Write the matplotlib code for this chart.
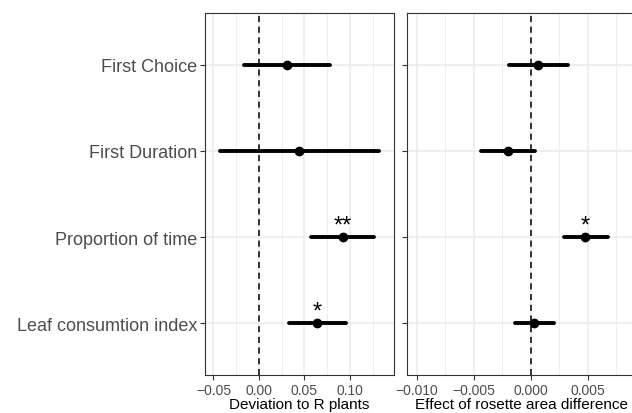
import numpy as np
import matplotlib.pyplot as plt
from matplotlib.ticker import MultipleLocator

plt.rcParams['font.family'] = ['Liberation Sans', 'DejaVu Sans']

# Data
labels = ['First Choice', 'First Duration', 'Proportion of time', 'Leaf consumtion index']

dev_est = [0.031, 0.044, 0.092, 0.064]
dev_lo = [-0.016, -0.043, 0.057, 0.033]
dev_hi = [0.078, 0.132, 0.126, 0.096]
dev_stars = ['', '', '**', '*']
dev_ticks = [-0.05, 0.0, 0.05, 0.10]
dev_ticklabels = ['−0.05', '0.00', '0.05', '0.10']

ros_est = [0.0006, -0.0020, 0.0048, 0.00025]
ros_lo = [-0.0019, -0.0044, 0.0029, -0.0014]
ros_hi = [0.0033, 0.0004, 0.0068, 0.0020]
ros_stars = ['', '', '*', '']
ros_ticks = [-0.010, -0.005, 0.0, 0.005]
ros_ticklabels = ['−0.010', '−0.005', '0.000', '0.005']

grid_col = '#EBEBEB'
txt_col = '#4D4D4D'

fig = plt.figure(figsize=(6.32, 4.14), dpi=100)
ax1 = fig.add_axes([205/632, 38/414, 189/632, 362/414])
ax2 = fig.add_axes([407/632, 38/414, 229/632, 362/414])

ypos = np.arange(1, len(labels) + 1)


def panel(ax, est, lo, hi, stars, xlim, minor, ticks, ticklabels, xlabel):
    ax.set_xlim(xlim)
    ax.set_ylim(4.6, 0.4)
    ax.set_xticks(ticks)
    ax.set_xticklabels(ticklabels)
    ax.xaxis.set_minor_locator(MultipleLocator(minor))
    ax.set_yticks(ypos)
    ax.grid(True, which='major', color=grid_col, lw=1.1, zorder=0)
    ax.grid(True, which='minor', axis='x', color=grid_col, lw=0.6, zorder=0)
    ax.set_axisbelow(True)
    ax.axvline(0, color='black', ls=(0, (4, 3)), lw=1.1, zorder=2)
    ax.hlines(ypos, lo, hi, color='black', lw=2.8, capstyle='round', zorder=3)
    ax.plot(est, ypos, 'o', color='black', ms=6, zorder=4)
    for x, y, s in zip(est, ypos, stars):
        if s:
            ax.text(x, y - 0.07, s, ha='center', va='baseline', fontsize=17, color='black')
    for sp in ax.spines.values():
        sp.set_color('#333333')
        sp.set_linewidth(0.8)
    ax.tick_params(axis='both', which='major', length=3.5, color='#333333', width=0.8,
                   labelcolor=txt_col, labelsize=10, pad=2)
    ax.tick_params(axis='x', which='minor', length=0)
    ax.set_xlabel(xlabel, fontsize=11, color='black')
    ax.xaxis.set_label_coords(0.5, -0.06)


panel(ax1, dev_est, dev_lo, dev_hi, dev_stars, (-0.0593, 0.1484), 0.025,
      dev_ticks, dev_ticklabels, 'Deviation to R plants')
ax1.set_yticklabels(labels, fontsize=13)

panel(ax2, ros_est, ros_lo, ros_hi, ros_stars, (-0.01088, 0.00924), 0.0025,
      ros_ticks, ros_ticklabels, 'Effect of rosette area difference')
ax2.set_yticklabels([])

fig.savefig('out.png', dpi=100)
